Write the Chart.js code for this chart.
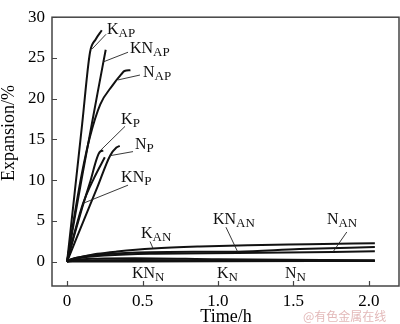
<!DOCTYPE html>
<html>
<head>
<meta charset="utf-8">
<script src="https://cdn.jsdelivr.net/npm/chart.js@4/dist/chart.umd.min.js"></script>
<style>
  html, body { margin: 0; padding: 0; background: #fff; }
  #wrap { width: 400px; height: 324px; position: relative; }
</style>
</head>
<body>
<div id="wrap"><canvas id="c" width="400" height="324"></canvas></div>
<script>
// Expansion (%) against time (h) for each sample series
const tKAP  = [0, 0.05, 0.10, 0.152, 0.19, 0.23];
const eKAP  = [0, 8.4, 16.9, 25.7, 27.3, 28.4];
const tKNAP = [0, 0.05, 0.10, 0.15, 0.20, 0.256];
const eKNAP = [0, 5.3, 10.5, 15.5, 20.5, 26.0];
const tNAP  = [0, 0.05, 0.10, 0.15, 0.22, 0.30, 0.36, 0.38, 0.42];
const eNAP  = [0, 5.8, 11.0, 15.2, 19.3, 21.6, 23.0, 23.4, 23.5];
const tKP   = [0, 0.05, 0.10, 0.15, 0.219, 0.24];
const eKP   = [0, 3.4, 6.6, 9.6, 13.5, 13.6];
const tKNP  = [0, 0.05, 0.106, 0.18, 0.25];
const eKNP  = [0, 3.6, 7.15, 10.3, 12.8];
const tNP   = [0, 0.05, 0.12, 0.20, 0.285, 0.327, 0.349];
const eNP   = [0, 2.3, 5.5, 9.1, 13.0, 14.0, 14.2];
const tKAN  = [0, 0.03, 0.10, 0.20, 0.33, 0.57, 0.88, 1.20, 1.60, 2.04];
const eKAN  = [0, 0.30, 0.60, 0.95, 1.23, 1.60, 1.85, 2.00, 2.12, 2.25];
const tKNAN = [0, 0.03, 0.10, 0.25, 0.55, 0.90, 1.13, 1.54, 2.04];
const eKNAN = [0, 0.30, 0.60, 0.90, 1.15, 1.20, 1.22, 1.55, 1.78];
const tNAN  = [0, 0.03, 0.10, 0.25, 0.55, 1.13, 1.76, 2.04];
const eNAN  = [0, 0.25, 0.50, 0.75, 0.97, 1.05, 1.17, 1.27];
const tNN   = [0, 0.05, 0.20, 0.45, 1.00, 2.04];
const eNN   = [0, 0.20, 0.35, 0.40, 0.28, 0.15];
const tKN   = [0, 0.05, 0.20, 0.45, 1.00, 2.04];
const eKN   = [0, 0.10, 0.15, 0.18, 0.14, 0.10];
const tKNN  = [0, 0.05, 0.20, 0.45, 1.00, 2.04];
const eKNN  = [0, 0.00, 0.00, 0.02, 0.05, 0.07];

// Axis ticks
const xTicks = [0, 0.5, 1, 1.5, 2];
const xTickLabels = ['0', '0.5', '1.0', '1.5', '2.0'];
const yTicks = [0, 5, 10, 15, 20, 25, 30];

// Curve labels: main text + subscript, anchor and leader line in data units
const curveLabels = [
  { main: 'K',  sub: 'AP', at: [0.265, 27.9], leader: [[0.258, 27.9], [0.166, 26.1]] },
  { main: 'KN', sub: 'AP', at: [0.417, 25.6], leader: [[0.404, 25.7], [0.238, 24.5]] },
  { main: 'N',  sub: 'AP', at: [0.503, 22.6], leader: [[0.483, 22.9], [0.338, 22.3]] },
  { main: 'K',  sub: 'P',  at: [0.358, 16.9], leader: [[0.384, 16.6], [0.219, 13.6]] },
  { main: 'N',  sub: 'P',  at: [0.450, 13.8], leader: [[0.437, 13.5], [0.285, 13.0]] },
  { main: 'KN', sub: 'P',  at: [0.358, 9.73], leader: [[0.404, 9.38], [0.106, 7.15]] },
  { main: 'K',  sub: 'AN', at: [0.490, 2.93], leader: [[0.550, 2.46], [0.570, 1.60]] },
  { main: 'KN', sub: 'AN', at: [0.967, 4.57], leader: [[1.053, 4.22], [1.130, 1.22]] },
  { main: 'N',  sub: 'AN', at: [1.722, 4.57], leader: [[1.854, 3.63], [1.762, 1.17]] },
  { main: 'KN', sub: 'N',  at: [0.430, -2.0] },
  { main: 'K',  sub: 'N',  at: [0.993, -2.0] },
  { main: 'N',  sub: 'N',  at: [1.444, -2.0] }
];

const series = [
  [tKAP, eKAP], [tKNAP, eKNAP], [tNAP, eNAP],
  [tKP, eKP], [tKNP, eKNP], [tNP, eNP],
  [tKAN, eKAN], [tKNAN, eKNAN], [tNAN, eNAN],
  [tNN, eNN], [tKN, eKN], [tKNN, eKNN]
];

const SERIF = '"Liberation Serif", "Times New Roman", serif';

const datasets = series.map(([t, e]) => ({
  data: t.map((x, i) => ({ x, y: e[i] })),
  borderColor: '#111',
  borderWidth: 2,
  pointRadius: 0,
  fill: false,
  tension: 0.3,
  cubicInterpolationMode: 'monotone'
}));

const decor = {
  id: 'decor',
  afterDatasetsDraw(chart) {
    const ctx = chart.ctx;
    const xs = chart.scales.x, ys = chart.scales.y;
    const a = chart.chartArea;
    ctx.save();
    // frame
    ctx.strokeStyle = '#444';
    ctx.lineWidth = 1.5;
    ctx.strokeRect(a.left, a.top, a.right - a.left, a.bottom - a.top);
    // inward tick marks
    ctx.lineWidth = 1.2;
    ctx.beginPath();
    xTicks.forEach(v => {
      const px = Math.round(xs.getPixelForValue(v)) + 0.5;
      ctx.moveTo(px, a.bottom); ctx.lineTo(px, a.bottom - 5);
    });
    yTicks.forEach(v => {
      const py = Math.round(ys.getPixelForValue(v)) + 0.5;
      ctx.moveTo(a.left, py); ctx.lineTo(a.left + 5, py);
    });
    ctx.stroke();

    // curve labels
    ctx.fillStyle = '#111';
    ctx.strokeStyle = '#222';
    ctx.lineWidth = 0.9;
    ctx.textBaseline = 'alphabetic';
    ctx.textAlign = 'left';
    curveLabels.forEach(l => {
      if (l.leader) {
        ctx.beginPath();
        ctx.moveTo(xs.getPixelForValue(l.leader[0][0]), ys.getPixelForValue(l.leader[0][1]));
        ctx.lineTo(xs.getPixelForValue(l.leader[1][0]), ys.getPixelForValue(l.leader[1][1]));
        ctx.stroke();
      }
      const px = xs.getPixelForValue(l.at[0]);
      const py = ys.getPixelForValue(l.at[1]);
      ctx.font = '16px ' + SERIF;
      ctx.fillText(l.main, px, py);
      const w = ctx.measureText(l.main).width;
      ctx.font = '13px ' + SERIF;
      ctx.fillText(l.sub, px + w, py + 3);
    });

    // axis titles
    ctx.font = '18px ' + SERIF;
    ctx.fillStyle = '#000';
    ctx.textAlign = 'center';
    ctx.fillText('Time/h', 226, 322);
    ctx.save();
    ctx.translate(14, 133);
    ctx.rotate(-Math.PI / 2);
    ctx.fillText('Expansion/%', 0, 0);
    ctx.restore();

    // source mark
    ctx.font = '12px "Noto Sans CJK SC", sans-serif';
    ctx.fillStyle = '#e3b9b9';
    ctx.textAlign = 'left';
    ctx.fillText('@有色金属在线', 303, 321);
    ctx.restore();
  }
};

new Chart(document.getElementById('c'), {
  type: 'line',
  data: { datasets },
  options: {
    responsive: false,
    animation: false,
    devicePixelRatio: 1,
    layout: { padding: { top: 5, right: 1, left: 0, bottom: 0 } },
    plugins: { legend: { display: false }, tooltip: { enabled: false } },
    scales: {
      x: {
        type: 'linear',
        min: -0.1, max: 2.2,
        grid: { display: false, drawTicks: false },
        border: { display: false },
        afterBuildTicks: s => { s.ticks = xTicks.map(v => ({ value: v })); },
        afterFit: s => { s.height = 38; },
        ticks: {
          padding: 5,
          color: '#000',
          font: { family: SERIF, size: 17 },
          maxRotation: 0,
          callback: (v) => xTickLabels[xTicks.indexOf(v)]
        }
      },
      y: {
        type: 'linear',
        min: -3, max: 30,
        grid: { display: false, drawTicks: false },
        border: { display: false },
        afterBuildTicks: s => { s.ticks = yTicks.map(v => ({ value: v })); },
        afterFit: s => { s.width = 52; },
        ticks: {
          padding: 7,
          color: '#000',
          font: { family: SERIF, size: 17 },
          callback: v => String(v)
        }
      }
    }
  },
  plugins: [decor]
});
</script>
</body>
</html>
